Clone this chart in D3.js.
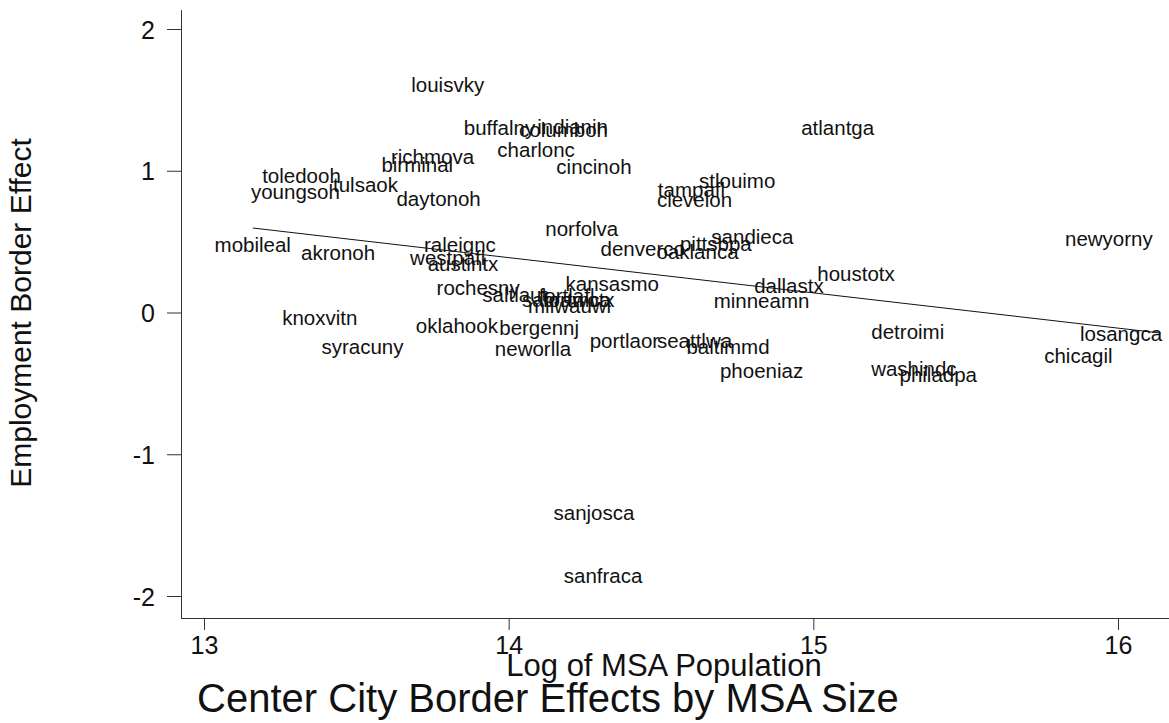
<!DOCTYPE html>
<html>
<head>
<meta charset="utf-8">
<script src="https://cdn.jsdelivr.net/npm/d3@7"></script>
<style>
  body { margin: 0; background: #fff; }
  svg { display: block; font-family: "Liberation Sans", Arial, Helvetica, sans-serif; }
  .lbl { font-size: 20.5px; fill: #111; }
  .tick text { font-size: 25px; fill: #111; }
</style>
</head>
<body>
<svg width="1169" height="723"></svg>
<script>
// MSA codes, log population and employment border effect
const msaNames = ["louisvky","buffalny","indianin","columboh","charlonc","richmova","birminal",
  "toledooh","youngsoh","tulsaok","daytonoh","cincinoh","atlantga","stlouimo","tampafl",
  "clevelon","sandieca","pittsbpa","oaklanca","denverco","norfolva","newyorny","houstotx",
  "dallastx","minneamn","detroimi","losangca","chicagil","washindc","philadpa","phoeniaz",
  "baltimmd","seattlwa","portlaor","neworlla","bergennj","oklahook","rochesny","saltlaut",
  "kansasmo","fortlafl","sacramca","fortwotx","milwauwi","mobileal","akronoh","raleignc",
  "westpafl","austintx","knoxvitn","syracuny","sanjosca","sanfraca"];
const logPop = [13.80,13.97,14.21,14.18,14.09,13.75,13.70,
  13.32,13.30,13.53,13.77,14.28,15.08,14.75,14.60,
  14.61,14.80,14.68,14.62,14.44,14.24,15.97,15.14,
  14.92,14.83,15.31,16.01,15.87,15.33,15.41,14.83,
  14.72,14.61,14.38,14.08,14.10,13.83,13.90,14.02,
  14.34,14.19,14.19,14.23,14.20,13.16,13.44,13.84,
  13.80,13.85,13.38,13.52,14.28,14.31];
const borderEffect = [1.605,1.302,1.309,1.287,1.146,1.097,1.041,
  0.963,0.850,0.899,0.801,1.026,1.302,0.928,0.864,
  0.794,0.533,0.483,0.427,0.448,0.589,0.519,0.272,
  0.187,0.081,-0.137,-0.152,-0.307,-0.399,-0.441,-0.413,
  -0.243,-0.201,-0.201,-0.257,-0.109,-0.095,0.173,0.123,
  0.201,0.116,0.088,0.088,0.046,0.476,0.420,0.476,
  0.384,0.342,-0.039,-0.243,-1.414,-1.859];

// fitted line endpoints
const fitX = [13.16, 16.14];
const fitY = [0.596, -0.145];

const xTicks = [13, 14, 15, 16];
const yTicks = [-2, -1, 0, 1, 2];

const svg = d3.select("svg");

const x = d3.scaleLinear().domain([13, 16]).range([204, 1118]);
const y = d3.scaleLinear().domain([-2, 2]).range([596, 29]);

// axes (plain hyphen for negatives, like the original)
const xAxis = svg.append("g")
  .attr("transform", "translate(0,618)")
  .call(d3.axisBottom(x).tickValues(xTicks).tickFormat(d => String(d)).tickSize(12).tickPadding(6));
xAxis.select(".domain").attr("d", "M181,0.5H1169");

const yAxis = svg.append("g")
  .attr("transform", "translate(181,0)")
  .call(d3.axisLeft(y).tickValues(yTicks).tickFormat(d => String(d)).tickSize(14).tickPadding(12));
yAxis.select(".domain").attr("d", "M0.5,10V618");

svg.selectAll(".domain, .tick line").attr("stroke", "#333").attr("stroke-width", 1);
svg.selectAll(".tick text").attr("font-family", null).attr("font-size", null);
yAxis.selectAll(".tick text").attr("dy", "0.36em");

// fit line
const fit = fitX.map((d, i) => [d, fitY[i]]);
svg.append("path")
  .datum(fit)
  .attr("fill", "none")
  .attr("stroke", "#111")
  .attr("stroke-width", 1)
  .attr("d", d3.line().x(d => x(d[0])).y(d => y(d[1])));

// marker labels
svg.append("g").selectAll("text")
  .data(msaNames)
  .join("text")
  .attr("class", "lbl")
  .attr("x", (d, i) => x(logPop[i]))
  .attr("y", (d, i) => y(borderEffect[i]))
  .attr("dy", "0.35em")
  .attr("text-anchor", "middle")
  .text(d => d);

// titles
svg.append("text")
  .attr("transform", "translate(31,313) rotate(-90)")
  .attr("text-anchor", "middle")
  .attr("font-size", 30)
  .attr("fill", "#111")
  .text("Employment Border Effect");

svg.append("text")
  .attr("x", 664).attr("y", 676)
  .attr("text-anchor", "middle")
  .attr("font-size", 31)
  .attr("fill", "#111")
  .text("Log of MSA Population");

svg.append("text")
  .attr("x", 548).attr("y", 712)
  .attr("text-anchor", "middle")
  .attr("font-size", 40)
  .attr("fill", "#111")
  .text("Center City Border Effects by MSA Size");
</script>
</body>
</html>
